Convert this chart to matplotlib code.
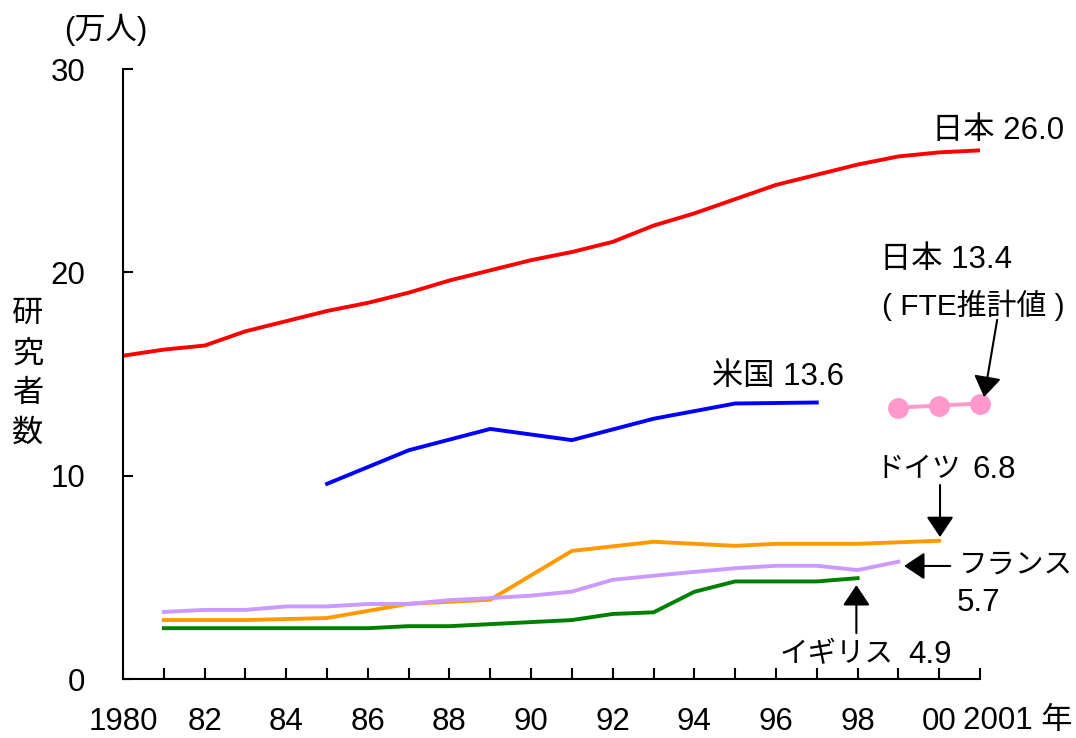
import numpy as np
import matplotlib
matplotlib.use("Agg")
import matplotlib.pyplot as plt

plt.rcParams['font.family'] = ['Liberation Sans', 'Noto Sans CJK JP', 'DejaVu Sans']

# 日本
jp_years = list(range(1980, 2002))
jp_vals = [15.9, 16.2, 16.4, 17.1, 17.6, 18.1, 18.5, 19.0, 19.6, 20.1, 20.6,
           21.0, 21.5, 22.3, 22.9, 23.6, 24.3, 24.8, 25.3, 25.7, 25.9, 26.0]

# 日本 (FTE推計値)
fte_years = [1999, 2000, 2001]
fte_vals = [13.35, 13.45, 13.55]

# 米国
us_years = [1985, 1987, 1989, 1991, 1993, 1995, 1997]
us_vals = [9.6, 11.25, 12.3, 11.75, 12.8, 13.55, 13.6]

# ドイツ
de_years = [1981, 1982, 1983, 1984, 1985, 1987, 1988, 1989, 1991, 1993, 1995,
            1996, 1997, 1998, 2000]
de_vals = [2.9, 2.9, 2.9, 2.95, 3.0, 3.7, 3.8, 3.9, 6.3, 6.75, 6.55,
           6.65, 6.65, 6.65, 6.8]

# フランス
fr_years = list(range(1981, 2000))
fr_vals = [3.3, 3.4, 3.4, 3.57, 3.57, 3.69, 3.69, 3.88, 3.98, 4.1, 4.3,
           4.88, 5.08, 5.27, 5.45, 5.57, 5.57, 5.36, 5.77]

# イギリス
uk_years = list(range(1981, 1999))
uk_vals = [2.5, 2.5, 2.5, 2.5, 2.5, 2.5, 2.6, 2.6, 2.7, 2.8, 2.9,
           3.2, 3.28, 4.29, 4.8, 4.8, 4.8, 4.96]

x_ticks = list(range(1980, 2002))
x_labels = ['1980', '', '82', '', '84', '', '86', '', '88', '', '90', '',
            '92', '', '94', '', '96', '', '98', '', '00', '']
y_ticks = [0, 10, 20, 30]

fig = plt.figure(figsize=(10.76, 7.38), dpi=100)
ax = fig.add_axes([0.1143, 0.0799, 0.7965, 0.8266])

lw = 2.8
ax.plot(jp_years, jp_vals, color='#ff0000', lw=lw)
ax.plot(us_years, us_vals, color='#0000ff', lw=lw)
ax.plot(de_years, de_vals, color='#ff9900', lw=lw)
ax.plot(fr_years, fr_vals, color='#cc99ff', lw=lw)
ax.plot(uk_years, uk_vals, color='#008000', lw=lw)
ax.plot(fte_years, fte_vals, color='#ff99cc', lw=lw, marker='o', markersize=14,
        clip_on=False)

ax.set_xlim(1980, 2001)
ax.set_ylim(0, 30)
ax.set_xticks(x_ticks)
ax.set_xticklabels(x_labels)
ax.set_yticks(y_ticks)
ax.tick_params(axis='x', direction='in', length=8, width=1.5, pad=20, labelsize=22.5)
ax.tick_params(axis='y', direction='in', length=7, width=1.5, pad=27, labelsize=22.5)
for s in ['top', 'right']:
    ax.spines[s].set_visible(False)
for s in ['left', 'bottom']:
    ax.spines[s].set_linewidth(1.5)

fs = 22.5
fk = 20.5  # kana labels are narrower in the original
ax.text(2000.59, -2.05, '2001 年', fontsize=fs, ha='left', va='center', clip_on=False)
fig.text(0.0985, 0.959, '(万人)', fontsize=fs, ha='center', va='center')
fig.text(0.026, 0.493, '研\n究\n者\n数', fontsize=fs, ha='center', va='center',
         linespacing=1.43)

arrow = dict(arrowstyle='-|>,head_length=0.45,head_width=0.3', mutation_scale=28,
             color='black', lw=1.5, shrinkA=0, shrinkB=0)

ax.text(1999.83, 26.95, '日本 26.0', fontsize=fs, ha='left', va='center')
ax.text(1998.55, 20.6, '日本 13.4', fontsize=fs, ha='left', va='center')
ax.text(1998.6, 18.4, '( FTE推計値 )', fontsize=21.5, ha='left', va='center')
ax.annotate('', xy=(2001.1, 13.87), xytext=(2001.42, 17.66), arrowprops=arrow,
            annotation_clip=False)
ax.text(1994.44, 14.85, '米国 13.6', fontsize=fs, ha='left', va='center')

ax.text(1998.45, 10.28, 'ドイツ', fontsize=fk, ha='left', va='center')
ax.text(2000.82, 10.28, '6.8', fontsize=fs, ha='left', va='center')
ax.annotate('', xy=(2000.02, 6.98), xytext=(2000.02, 9.54), arrowprops=arrow,
            annotation_clip=False)

ax.text(2000.47, 5.6, 'フランス', fontsize=fk, ha='left', va='center')
ax.text(2000.44, 3.74, '5.7', fontsize=fs, ha='left', va='center')
ax.annotate('', xy=(1999.14, 5.56), xytext=(2000.27, 5.56), arrowprops=arrow,
            annotation_clip=False)

ax.text(1996.1, 1.18, 'イギリス', fontsize=fk, ha='left', va='center')
ax.text(1999.25, 1.18, '4.9', fontsize=fs, ha='left', va='center')
ax.annotate('', xy=(1997.97, 4.62), xytext=(1997.97, 2.26), arrowprops=arrow,
            annotation_clip=False)

fig.savefig('out.png', dpi=100)
